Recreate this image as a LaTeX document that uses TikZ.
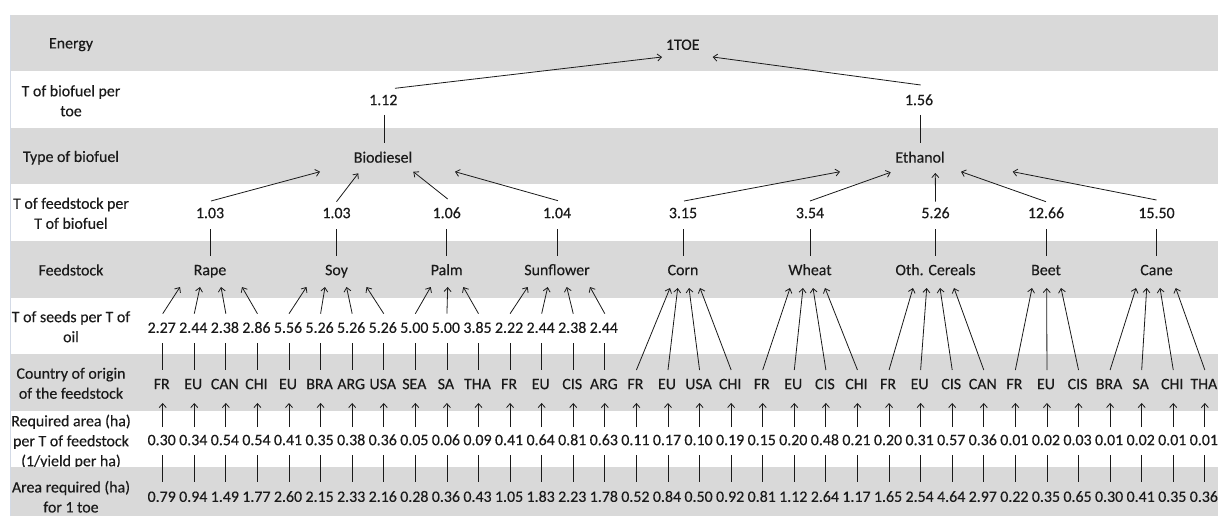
\documentclass[tikz,border=0pt]{standalone}
\usepackage{fontspec}
\setmainfont{Carlito}[FakeBold=0.3]
\usetikzlibrary{arrows.meta,calc}
\definecolor{band}{HTML}{D9D9D9}
\definecolor{ink}{HTML}{1A1A1A}
\definecolor{edgeline}{HTML}{D3DAE6}
\begin{document}
\begin{tikzpicture}[x=1pt,y=-1pt,
  txt/.style={inner sep=0pt, text height=10.3pt, text depth=0pt, font=\fontsize{15.9}{20}\selectfont, text=ink},
  lab/.style={inner sep=0pt, align=center, font=\fontsize{15.9}{20}\selectfont, text=ink},
  ln/.style={draw=ink, line width=0.8pt},
  arr/.style={ln, -{Straight Barb[length=4pt,width=7pt]}}]
\useasboundingbox (0,0) rectangle (1220,516);
% bands
\fill[band] (10,15) rectangle (1218,71);
\fill[band] (10,128) rectangle (1218,184);
\fill[band] (10,241) rectangle (1218,298);
\fill[band] (10,354) rectangle (1218,411);
% row labels
\node[lab] (l1) at (71,44.7) {Energy};
\node[lab] (l2) at (71,100.8) {T of biofuel per\\toe};
\node[lab] (l3) at (71,157.7) {Type of biofuel};
\node[lab] (l4) at (71,213.3) {T of feedstock per\\T of biofuel};
\node[lab] (l5) at (71,270) {Feedstock};
\node[lab] (l6) at (71,326.7) {T of seeds per T of\\oil};
\node[lab] (l7) at (71,383.3) {Country of origin\\of the feedstock};
\node[lab] (l8) at (71,441.7) {Required area (ha)\\per T of feedstock\\(1/yield per ha)};
\fill[band] (10,467) rectangle (1218,516);
\node[lab] (l9) at (71,496.7) {Area required (ha)\\for 1 toe};
\draw[edgeline, line width=1pt] (10,15) -- (10,516);
% top levels
\node[txt] (toe) at (682.7,44.7) {1TOE};
\node[txt] (t112) at (383.3,100) {1.12};
\node[txt] (t156) at (919,100) {1.56};
\node[txt] (bio) at (383,157.5) {Biodiesel};
\node[txt] (eth) at (920,157.5) {Ethanol};
\draw[arr] ($(t112)+(11.7,-11.7)$) -- ($(toe)+(-20.7,12.3)$);
\draw[arr] ($(t156)+(1.7,-15)$) -- ($(toe)+(30,12.3)$);
\draw[ln] ($(t112)+(1.5,15)$) -- ($(bio)+(1.8,-14.5)$);
\draw[ln] ($(t156)+(1.7,15)$) -- ($(eth)+(0.7,-14.5)$);
% feedstocks
\foreach \n/\x/\v/\lab in {rape/210/1.03/Rape, soy/336.5/1.03/Soy, palm/446.7/1.06/Palm, sunf/557/1.04/Sunflower, corn/683/3.15/Corn, wheat/810/3.54/Wheat, oth/935.5/5.26/Oth. Cereals, beet/1046/12.66/Beet, cane/1156.5/15.50/Cane}{
  \node[txt] (q\n) at (\x,213) {\v};
  \node[txt] (\n) at (\x,270) {\lab};
  \draw[ln] ($(q\n)+(0,16)$) -- ($(\n)+(0,-14)$);
}
\draw[arr] ($(qrape)+(1,-12)$) -- ($(bio)+(-63,14.2)$);
\draw[arr] ($(qsoy)+(0,-11.3)$) -- ($(bio)+(-24.7,15.8)$);
\draw[arr] ($(qpalm)+(1,-14)$) -- ($(bio)+(30.3,14.2)$);
\draw[arr] ($(qsunf)+(1,-12.3)$) -- ($(bio)+(72,14.2)$);
\draw[arr] ($(qcorn)+(1,-12)$) -- ($(eth)+(-80,14.2)$);
\draw[arr] ($(qwheat)+(0,-12)$) -- ($(eth)+(-29.3,14.8)$);
\draw[arr] ($(qoth)+(0,-11.3)$) -- ($(eth)+(15.3,15.5)$);
\draw[arr] ($(qbeet)+(0,-11.3)$) -- ($(eth)+(41,14.2)$);
\draw[arr] ($(qcane)+(0,-13)$) -- ($(eth)+(92.7,14.2)$);
% countries and areas
\foreach \c/\a/\b [count=\i from 0] in {FR/0.30/0.79, EU/0.34/0.94, CAN/0.54/1.49, CHI/0.54/1.77, EU/0.41/2.60, BRA/0.35/2.15, ARG/0.38/2.33, USA/0.36/2.16, SEA/0.05/0.28, SA/0.06/0.36, THA/0.09/0.43, FR/0.41/1.05, EU/0.64/1.83, CIS/0.81/2.23, ARG/0.63/1.78, FR/0.11/0.52, EU/0.17/0.84, USA/0.10/0.50, CHI/0.19/0.92, FR/0.15/0.81, EU/0.20/1.12, CIS/0.48/2.64, CHI/0.21/1.17, FR/0.20/1.65, EU/0.31/2.54, CIS/0.57/4.64, CAN/0.36/2.97, FR/0.01/0.22, EU/0.02/0.35, CIS/0.03/0.65, BRA/0.01/0.30, SA/0.02/0.41, CHI/0.01/0.35, THA/0.01/0.36}{
  \pgfmathsetmacro\xx{161.7+31.58*\i}
  \node[txt] (c\i) at (\xx,384) {\c};
  \node[txt] (a\i) at (\xx,440) {\a};
  \node[txt] (b\i) at (\xx,496.7) {\b};
  \draw[arr] ($(a\i)+(1,-13)$) -- ($(c\i)+(1,19)$);
  \draw[ln] ($(a\i)+(1,15)$) -- ($(b\i)+(1,-14.7)$);
}
% seeds
\foreach \s [count=\i from 0] in {2.27,2.44,2.38,2.86,5.56,5.26,5.26,5.26,5.00,5.00,3.85,2.22,2.44,2.38,2.44}{
  \pgfmathsetmacro\xx{161.7+31.58*\i}
  \node[txt] (s\i) at (\xx,327.7) {\s};
  \draw[ln] ($(s\i)+(1,15.3)$) -- ($(c\i)+(1,-14)$);
}
\foreach \i/\f/\dx in {0/rape/-30, 1/rape/-10, 2/rape/11, 3/rape/32, 4/soy/-30, 5/soy/-11.5, 6/soy/10, 7/soy/30, 8/palm/-16, 9/palm/1, 10/palm/16.6, 11/sunf/-29.3, 12/sunf/-9.3, 13/sunf/9.7, 14/sunf/33}{
  \draw[arr] ($(s\i)+(1,-14)$) -- ($(\f)+(\dx,17)$);
}
\foreach \i/\f/\dx in {15/corn/-13, 16/corn/-5.3, 17/corn/6, 18/corn/17, 19/wheat/-20, 20/wheat/-7, 21/wheat/3, 22/wheat/15, 23/oth/-22.5, 24/oth/-8.8, 25/oth/4.5, 26/oth/18.5, 27/beet/-14, 28/beet/0.7, 29/beet/15, 30/cane/-20.5, 31/cane/-9.8, 32/cane/3.5, 33/cane/19.2}{
  \draw[arr] ($(c\i)+(1,-14)$) -- ($(\f)+(\dx,18)$);
}
\end{tikzpicture}
\end{document}
